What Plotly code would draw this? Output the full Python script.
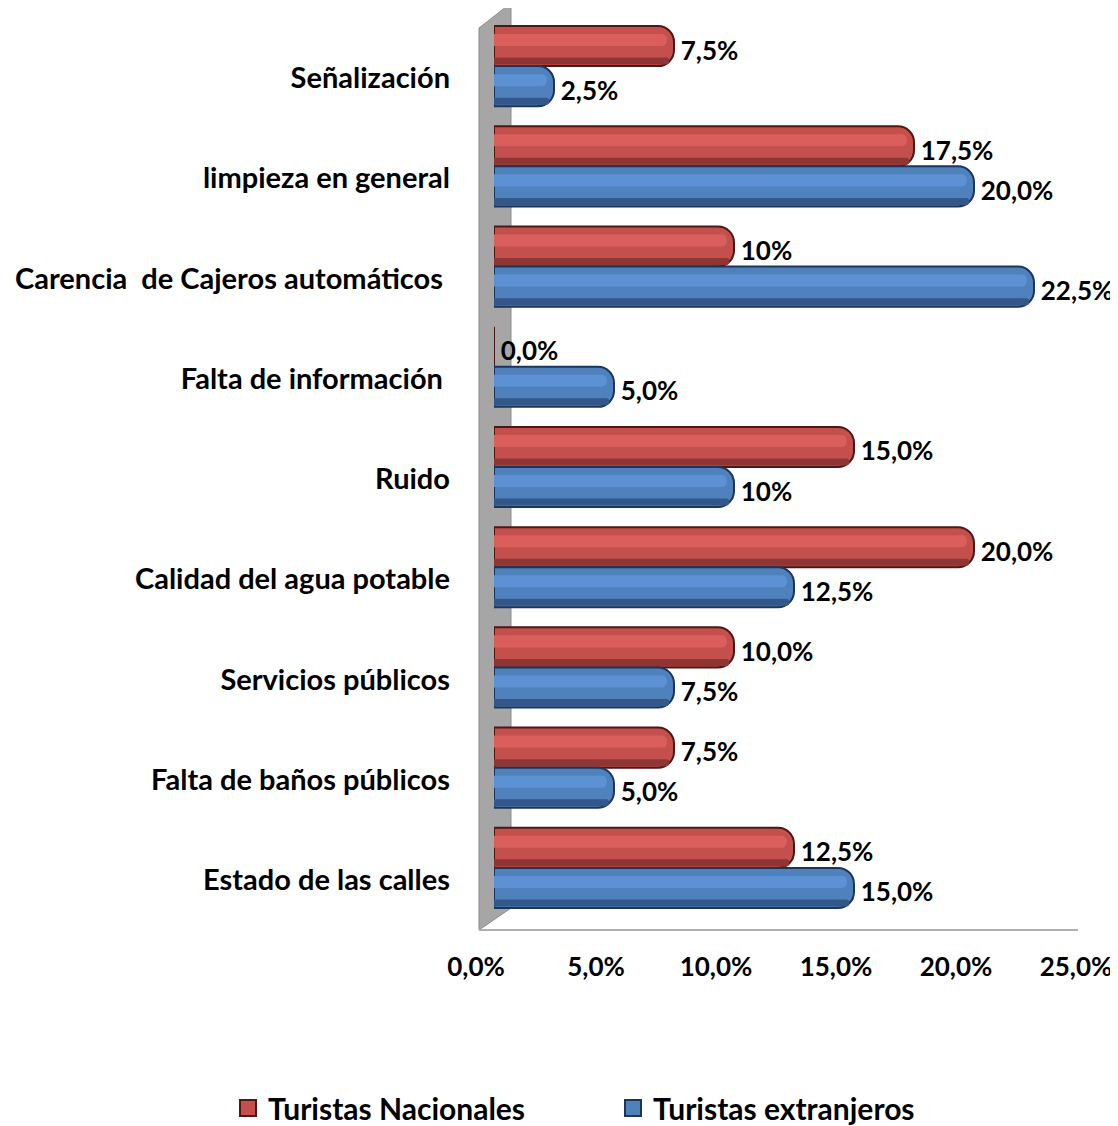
import plotly.graph_objects as go

categories = ["Estado de las calles", "Falta de baños públicos", "Servicios públicos",
              "Calidad del agua potable", "Ruido", "Falta de información ",
              "Carencia  de Cajeros automáticos ", "limpieza en general", "Señalización"]
nacionales = [12.5, 7.5, 10.0, 20.0, 15.0, 0.0, 10.0, 17.5, 7.5]
nacionales_labels = ["12,5%", "7,5%", "10,0%", "20,0%", "15,0%", "0,0%", "10%", "17,5%", "7,5%"]
extranjeros = [15.0, 5.0, 7.5, 12.5, 10.0, 5.0, 22.5, 20.0, 2.5]
extranjeros_labels = ["15,0%", "5,0%", "7,5%", "12,5%", "10%", "5,0%", "22,5%", "20,0%", "2,5%"]
x_ticks = [0, 5, 10, 15, 20, 25]
x_tick_labels = ["0,0%", "5,0%", "10,0%", "15,0%", "20,0%", "25,0%"]

# page has a default 8px body margin: shift the figure so it fills the window
PAD = 8
W, H = 1118 - PAD, 1126 - PAD
# plot area in window pixels
WL, WR, WT, WB = 494, 1094, 16, 918
L, R, T, B = WL - PAD, WR - PAD, WT - PAD, WB - PAD
FONT = "Lato"

def px(X):
    return (X - WL) / (WR - WL)

def py(Y):
    return (WB - Y) / (WB - WT)

def inset(vals, d):
    return [max(0.0, v - d) for v in vals]

pos = list(range(len(categories)))

fig = go.Figure()

series = [
    # name, values, labels, colour, edge, highlight, shadow, bar offset, label y shift
    ("Turistas Nacionales", nacionales, nacionales_labels, "#C4504E", "#4E1716", "#DA5E5C", "#8F3533", 0.0, 0.13),
    ("Turistas extranjeros", extranjeros, extranjeros_labels, "#4F81BD", "#1C3558", "#5C92D4", "#34578A", -0.4, -0.27),
]

for name, vals, labels, col, edge, hi, sh, off, ly in series:
    fig.add_trace(go.Bar(
        y=pos, x=vals, orientation="h", name=name, showlegend=False,
        offset=off, width=0.4,
        marker=dict(color=col, line=dict(color=edge, width=2), cornerradius=16),
    ))
    fig.add_trace(go.Bar(
        y=pos, x=inset(vals, 0.2), orientation="h", showlegend=False, hoverinfo="skip",
        offset=off + 0.015, width=0.07,
        marker=dict(color=sh, line=dict(width=0), cornerradius=4),
    ))
    fig.add_trace(go.Bar(
        y=pos, x=inset(vals, 0.3), orientation="h", showlegend=False, hoverinfo="skip",
        offset=off + 0.2, width=0.12,
        marker=dict(color=hi, line=dict(width=0), cornerradius=5),
    ))
    fig.add_trace(go.Scatter(
        y=[p + ly for p in pos], x=[v + 0.28 for v in vals], mode="text",
        text=labels, textposition="middle right", cliponaxis=False,
        showlegend=False, hoverinfo="skip",
        textfont=dict(family=FONT, size=26, color="black", weight="bold"),
    ))

fig.add_trace(go.Scatter(x=[None], y=[None], mode="markers", name="Turistas Nacionales",
                         marker=dict(symbol="square", size=20, color="#C4504E",
                                     line=dict(color="#4E1716", width=2))))
fig.add_trace(go.Scatter(x=[None], y=[None], mode="markers", name="Turistas extranjeros",
                         marker=dict(symbol="square", size=20, color="#4F81BD",
                                     line=dict(color="#1C3558", width=2))))

shapes = [
    dict(type="path", xref="paper", yref="paper",
         path=f"M {px(479)} {py(28)} L {px(511)} {py(3)} L {px(511)} {py(908)} L {px(479)} {py(930)} Z",
         fillcolor="#A6A6A6", line=dict(color="#8C8C8C", width=1), layer="below"),
    dict(type="line", xref="paper", yref="paper",
         x0=px(479), x1=px(1078), y0=py(930), y1=py(930),
         line=dict(color="#B0B0B0", width=2), layer="below"),
]

fig.update_layout(
    width=W, height=H,
    margin=dict(l=L, r=W - R, t=T, b=H - B, autoexpand=False),
    paper_bgcolor="white", plot_bgcolor="white",
    barmode="overlay",
    font=dict(family=FONT, size=22, color="black", weight="bold"),
    shapes=shapes,
    showlegend=True,
    legend=dict(orientation="h", xref="paper", yref="paper",
                x=px(228), xanchor="left", y=py(1108), yanchor="middle",
                font=dict(family=FONT, size=30, color="black", weight="bold"),
                itemwidth=30, entrywidth=340, entrywidthmode="pixels",
                bgcolor="rgba(0,0,0,0)"),
    xaxis=dict(range=[0, 25], tickvals=x_ticks, ticktext=x_tick_labels,
               showgrid=False, zeroline=False, showline=False, ticks="",
               automargin=False, ticklabelstandoff=31, ticklabelshift=-18,
               ticklabeloverflow="allow",
               tickfont=dict(family=FONT, size=26, color="black", weight="bold")),
    yaxis=dict(range=[-0.5, 8.5], tickvals=pos, ticktext=categories,
               showgrid=False, zeroline=False, showline=False, ticks="",
               automargin=False, ticklabelstandoff=43, ticklabelshift=12,
               tickfont=dict(family=FONT, size=29, color="black", weight="bold")),
)

fig.write_html("out.html")
